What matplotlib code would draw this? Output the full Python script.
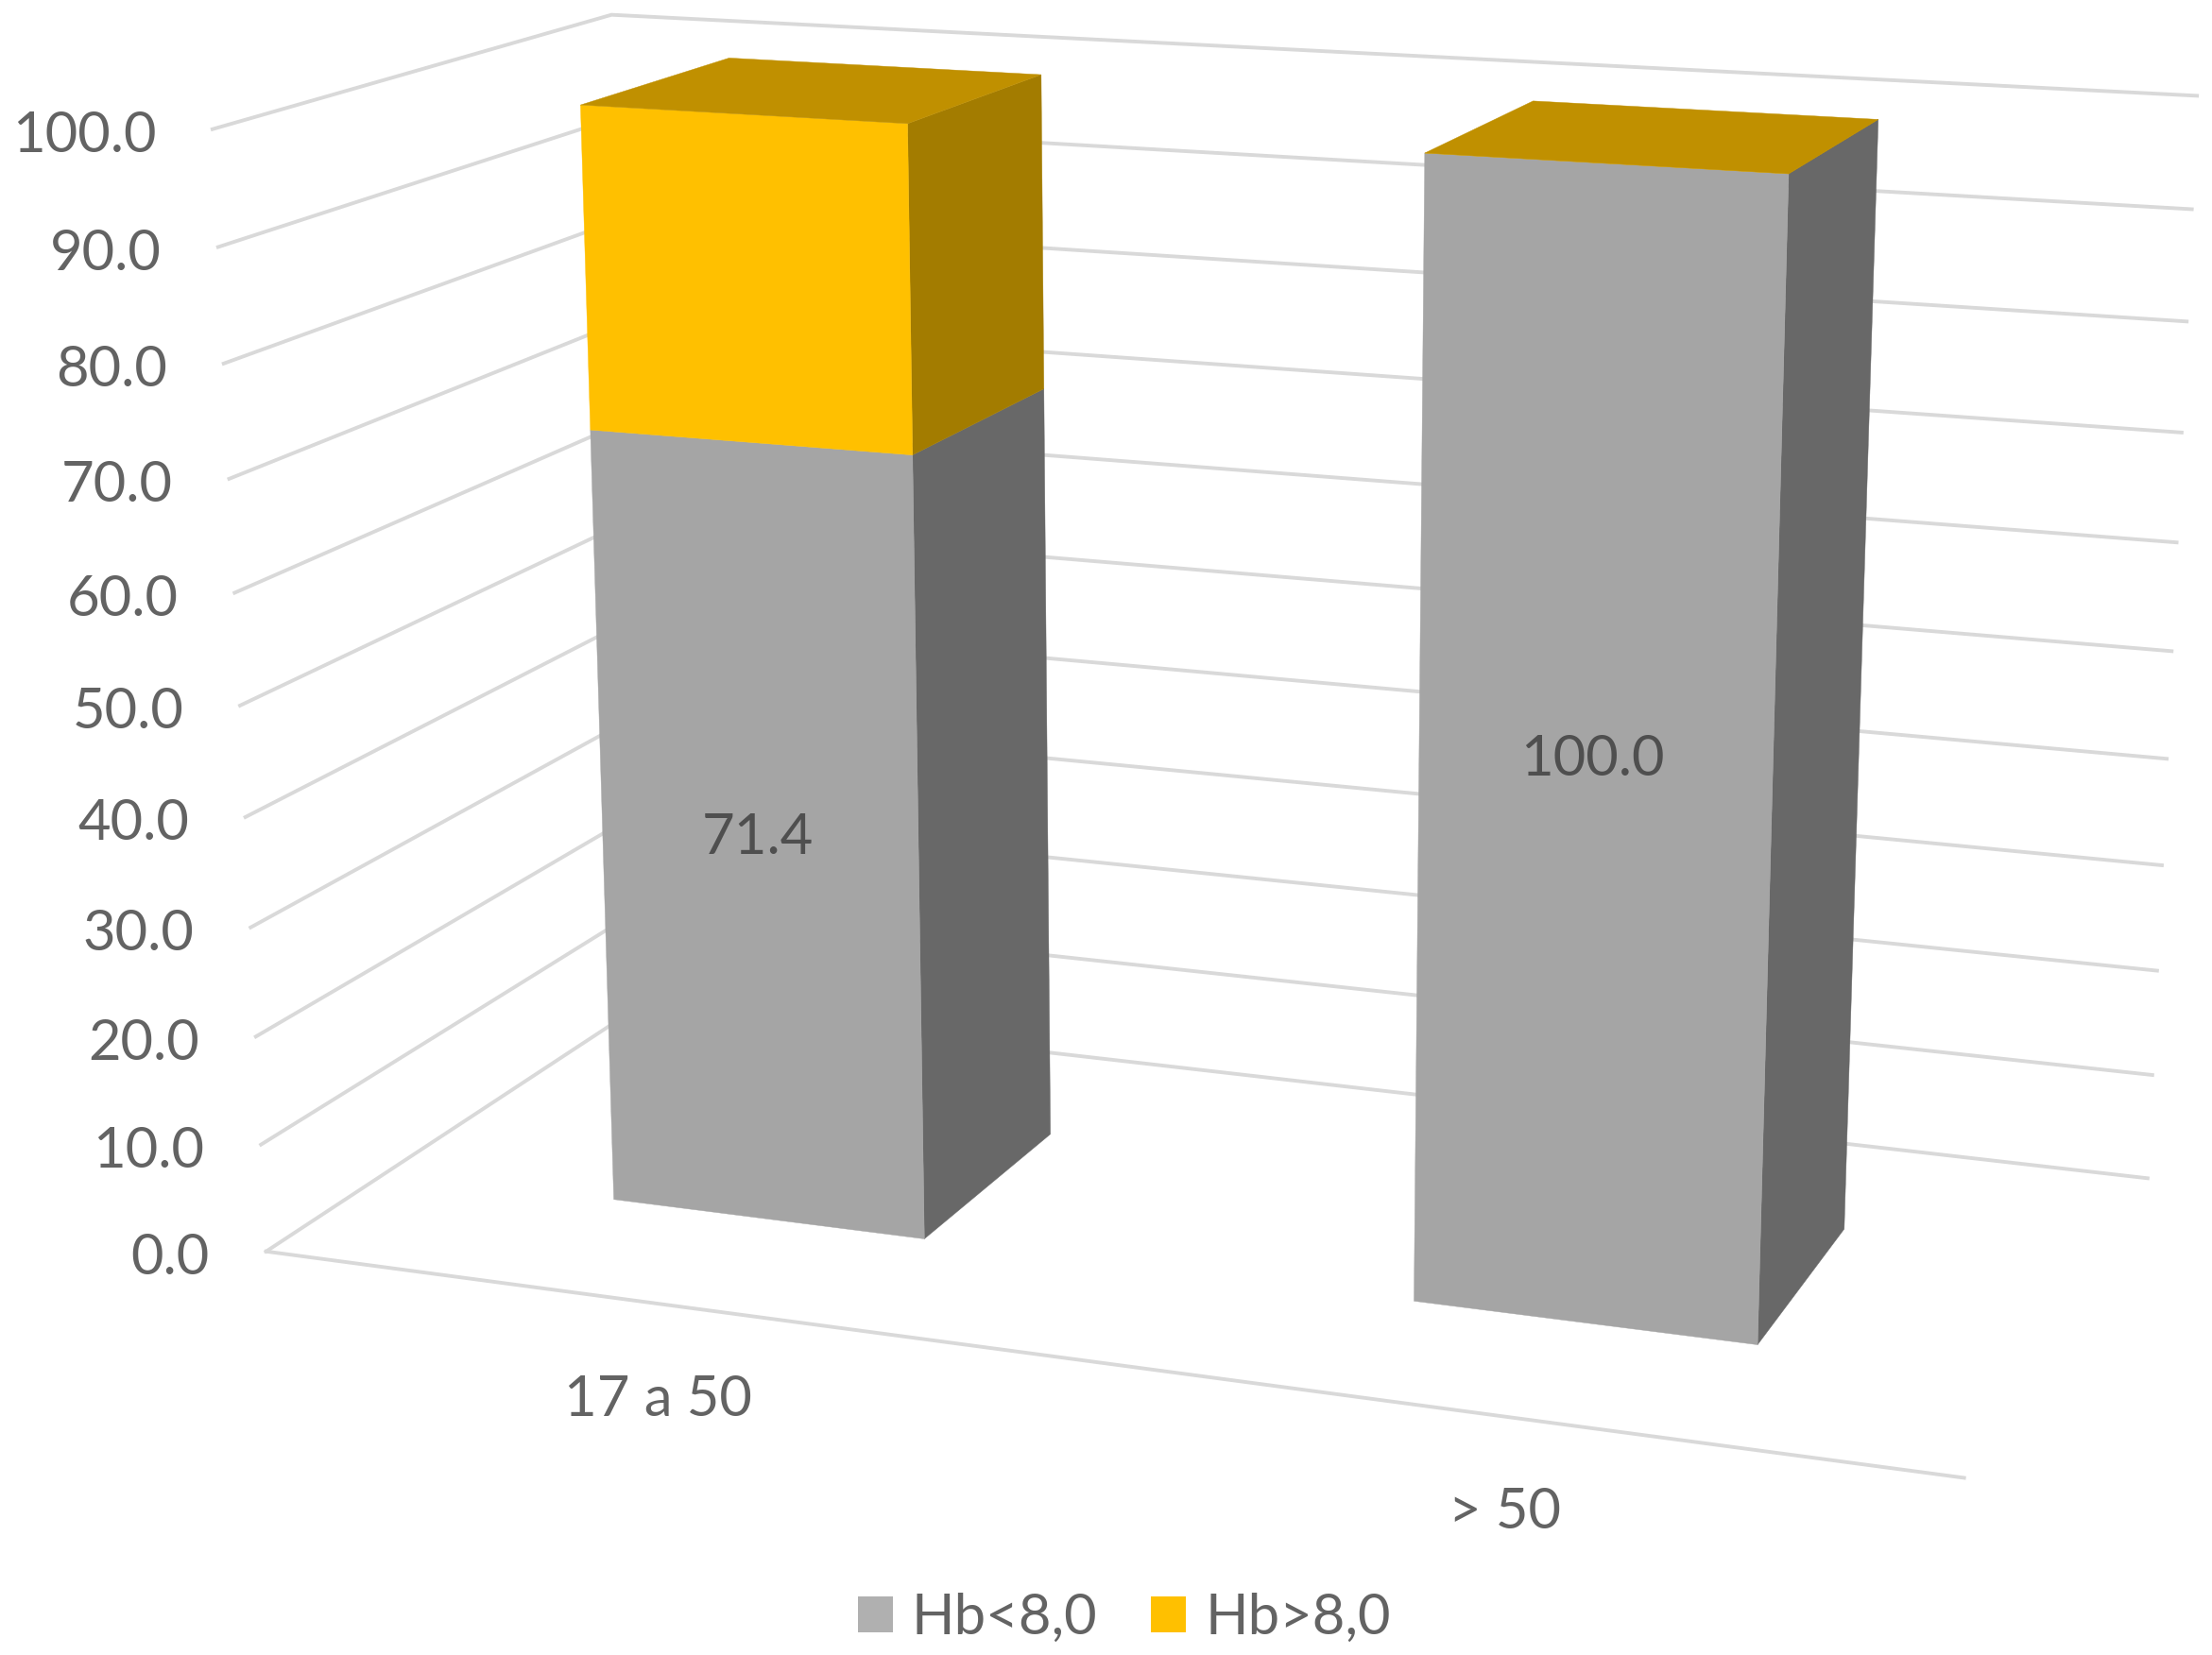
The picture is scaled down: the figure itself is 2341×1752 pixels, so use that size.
import matplotlib
matplotlib.use('Agg')
import matplotlib.pyplot as plt
import numpy as np
from matplotlib.patches import Patch, Polygon

categories = ['17 a 50', '> 50']
series_names = ['Hb<8,0', 'Hb>8,0']
hb_low = [71.4, 100.0]
hb_high = [28.6, 0.0]
value_ticks = [0, 10, 20, 30, 40, 50, 60, 70, 80, 90, 100]

bar_centers = [0.25, 0.75]
bar_width = 0.2
bar_depth = (0.3, 0.7)

# camera of the 3D chart: (across, value/100, depth, 1) -> picture position / 1000
camera = np.array([
    [-0.5498363465442075, 0.023767670222319015, -0.16947439082053606, -0.09747724602406682],
    [-0.028683255787682077, 0.41349456220415826, 0.03892265541365506, -0.4582968831185238],
    [0.05178001282504571, 0.027332368219986296, -0.07160937862827657, -0.5167050297131788],
])

FACE = ['#A5A5A5', '#FFC000']
SIDE = ['#686868', '#A37C00']
TOP = ['#7F7F7F', '#C09000']
LEGEND = ['#B0B0B0', '#FFC000']
GRID = '#D9D9D9'
TEXT = '#636363'


def proj(u, v, w):
    p = camera @ np.array([u, v / 100, w, 1.0])
    return p[:2] / p[2] * 1000


plt.rcParams['font.family'] = ['Lato', 'DejaVu Sans']

fig = plt.figure(figsize=(23.41, 17.52), dpi=100)
ax = fig.add_axes([0, 0, 1, 1])
ax.set_xlim(0, 1568)
ax.set_ylim(1173, 0)
ax.axis('off')

# walls
for v in value_ticks:
    line = np.array([proj(0, v, 0), proj(0, v, 1), proj(1, v, 1)])
    ax.plot(line[:, 0], line[:, 1], color=GRID, lw=2.8, solid_joinstyle='miter', zorder=1)
    x, y = proj(0, v, 0)
    ax.text(x - 40, y + 5, f'{v:.1f}', ha='right', va='center', fontsize=43, color=TEXT)

# floor front edge
edge = np.array([proj(0, 0, 0), proj(1, 0, 0)])
ax.plot(edge[:, 0], edge[:, 1], color=GRID, lw=2.8, zorder=1)

for i, center in enumerate(bar_centers):
    u0 = center - bar_width / 2
    u1 = center + bar_width / 2
    w0, w1 = bar_depth
    base = 0
    for k, val in enumerate([hb_low[i], hb_high[i]]):
        top = base + val
        side = [proj(u1, base, w0), proj(u1, base, w1), proj(u1, top, w1), proj(u1, top, w0)]
        front = [proj(u0, base, w0), proj(u1, base, w0), proj(u1, top, w0), proj(u0, top, w0)]
        ax.add_patch(Polygon(side, closed=True, facecolor=SIDE[k], edgecolor=SIDE[k], lw=0.3, zorder=3))
        ax.add_patch(Polygon(front, closed=True, facecolor=FACE[k], edgecolor=FACE[k], lw=0.3, zorder=4))
        base = top
    lid = [proj(u0, base, w0), proj(u1, base, w0), proj(u1, base, w1), proj(u0, base, w1)]
    ax.add_patch(Polygon(lid, closed=True, facecolor=TOP[1], edgecolor=TOP[1], lw=0.3, zorder=4))

    # value label in the middle of the front of the lower part
    x, y = proj(center, hb_low[i] / 2, w0)
    ax.text(x - 1, y, f'{hb_low[i]:.1f}', ha='center', va='center', fontsize=43, color='#4F4F4F', zorder=5)

    # category under the front edge
    x, y = proj(center, 0, 0)
    ax.text(x, y + 68, categories[i], ha='center', va='center', fontsize=43, color=TEXT)

handles = [Patch(facecolor=LEGEND[0], label=series_names[0]), Patch(facecolor=LEGEND[1], label=series_names[1])]
ax.legend(handles=handles, loc='center', bbox_to_anchor=(797, 1147), bbox_transform=ax.transData, ncol=2,
          frameon=False, fontsize=43, labelcolor=TEXT, handlelength=0.62, handleheight=0.62,
          handletextpad=0.33, columnspacing=0.95, borderpad=0)

fig.savefig('out.png', dpi=100, facecolor='white')
